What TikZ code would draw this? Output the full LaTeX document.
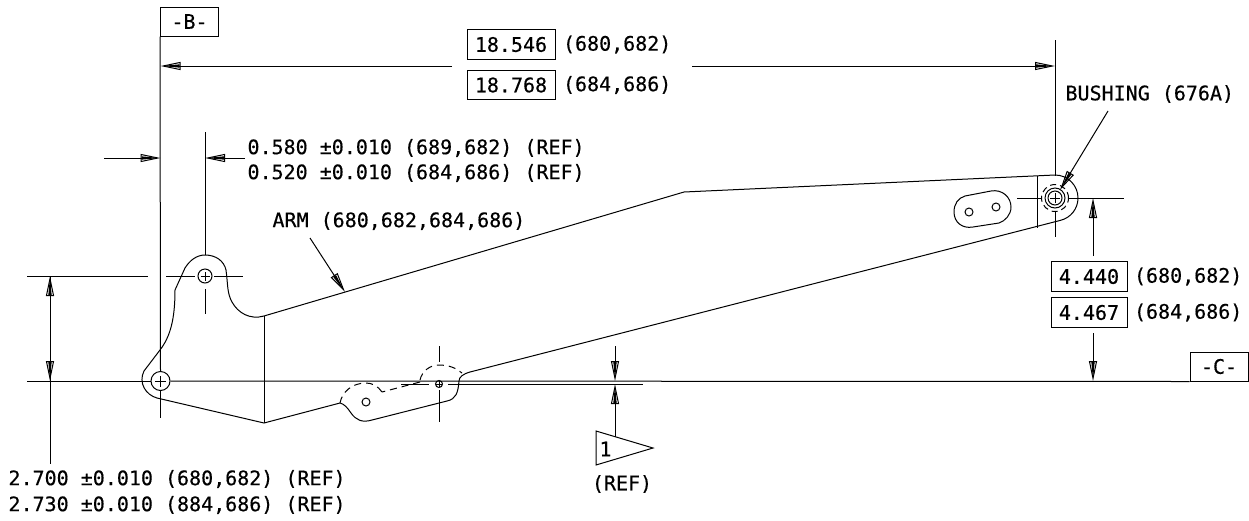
\documentclass[tikz,border=0pt]{standalone}
\usepackage{fontspec}
\setmainfont[FakeBold=0.4]{DejaVu Sans Mono}
\usetikzlibrary{arrows.meta,positioning}
\tikzstyle{dimtext}=[anchor=west,inner sep=0pt,font=\fontsize{20}{24}\selectfont]
\tikzstyle{dimbox}=[draw,inner sep=0pt,minimum width=88pt,minimum height=29.5pt,font=\fontsize{20}{24}\selectfont]
\tikzstyle{datumbox}=[draw,inner sep=0pt,minimum width=58pt,minimum height=29pt,font=\fontsize{20}{24}\selectfont]
\tikzstyle{dimline}=[-{Triangle[open,length=20pt,width=8pt,sep=-19pt]Triangle[length=19pt,width=3pt]}]
\tikzstyle{part}=[line width=1pt]
\tikzstyle{hidden}=[line width=1pt,dash pattern=on 7pt off 5pt]
\tikzstyle{hole}=[circle,draw,line width=1pt,inner sep=0pt]
\tikzset{crossed/.style={path picture={
    \draw[line width=.8pt] ([xshift=-#1]path picture bounding box.center) -- ([xshift=#1]path picture bounding box.center);
    \draw[line width=.8pt] ([yshift=-#1]path picture bounding box.center) -- ([yshift=#1]path picture bounding box.center);}}}
\begin{document}
\begin{tikzpicture}[x=1pt,y=-1pt,line width=1pt]
            \useasboundingbox (0,0) rectangle (1249,520);

            % ARM PART

            \draw[part] (264,316) -- (684,192) -- (1055,175)
                arc (-90:76:23) -- (470,372)
                .. controls (463,374) and (459,377) .. (459,381)
                .. controls (458,393) and (456,399) .. (447,401)
                -- (372,420)
                .. controls (362,423) and (356,420) .. (351,413)
                .. controls (347,407) and (344,404) .. (340,403)
                -- (264,423) -- (157,398)
                .. controls (146,395) and (138,383) .. (144,371)
                -- (160,350)
                .. controls (170,337) and (175,320) .. (175,290)
                -- (185,268)
                .. controls (190,260) and (197,255) .. (205,255)
                .. controls (216,255) and (224,261) .. (226,270)
                .. controls (228,285) and (227,293) .. (232,302)
                .. controls (238,313) and (250,320) .. (264,316);
            \draw[part] (264,316) -- (264,423);
            \draw[part] (1037,176) -- (1037,228);

            % slot
            \draw[part] (965,196) -- (991,191)
                .. controls (1002,189) and (1011,197) .. (1011,207)
                .. controls (1011,215) and (1005,221) .. (999,223)
                -- (973,227)
                .. controls (962,229) and (954,222) .. (954,212)
                .. controls (954,204) and (958,198) .. (965,196);
            \node[hole,minimum size=8pt] (slot1) at (969,212) {};
            \node[hole,minimum size=8pt] (slot2) at (996,207) {};

            % hidden part
            \draw[hidden] (420,380) .. controls (422,371) and (430,365) .. (439,365)
                .. controls (449,365) and (456,368) .. (462,373);
            \draw[hidden] (420,382) -- (382,392);
            \draw[hidden] (382,392) .. controls (378,386) and (372,383) .. (366,383)
                .. controls (352,383) and (342,392) .. (340,403);
            \node[hole,minimum size=8pt] (hole4) at (366,402) {};

            % holes

            \node[hole,minimum size=19pt,crossed=5.5pt] (hole1) at (160.5,381) {};
            \node[hole,minimum size=14pt,crossed=4.5pt] (hole2) at (205,276) {};
            \node[hole,minimum size=7pt,crossed=3.5pt] (hole3) at (439,384) {};
            \node[hole,minimum size=14pt,crossed=5pt] (bush1) at (1055,198) {};
            \node[hole,minimum size=20pt] (bush2) at (1055,198) {};
            \node[hole,minimum size=27pt,dash pattern=on 6pt off 4pt] (bush3) at (1055,198) {};

            % DATUM PART

            \node[datumbox] (datB) at (189.5,21.5) {-B-};
            \node[datumbox] (datC) at (1219,366.5) {-C-};

            \coordinate (bbot) at (160.5,418);
            \coordinate (cleft) at (27,381);
            \draw (datB.south west) -- (hole1.north);
            \draw (hole1.south) -- (bbot);
            \draw (cleft) -- (hole1.west);
            \draw (hole1.east) -- (datC.south west);

            % center lines

            \coordinate (rtop) at (1055,40);
            \coordinate (rmid) at (1055,176);
            \coordinate (rbot) at (1055,237);
            \coordinate (brl) at (1017,198);
            \coordinate (brr) at (1124,198);
            \coordinate (atop) at (205,132);
            \coordinate (amid) at (205,255);
            \coordinate (alow) at (205,289);
            \coordinate (abot) at (205,314);
            \coordinate (al) at (27,276);
            \coordinate (am) at (148,276);
            \coordinate (an) at (166,276);
            \coordinate (ao) at (195,276);
            \coordinate (ap) at (214,276);
            \coordinate (ar) at (243,276);
            \coordinate (ptop) at (439,346);
            \coordinate (pmid) at (439,362);
            \coordinate (plow) at (439,390);
            \coordinate (pbot) at (439,422);
            \coordinate (pl) at (401,384);
            \coordinate (pm) at (429,384);
            \coordinate (pn) at (448,384);
            \coordinate (pr) at (643,384);
            \draw (rtop) -- (rmid);
            \draw (bush3.south) -- (rbot);
            \draw (brl) -- (bush3.west);
            \draw (bush3.east) -- (brr);
            \draw (atop) -- (amid);
            \draw (alow) -- (abot);
            \draw (al) -- (am);
            \draw (an) -- (ao);
            \draw (ap) -- (ar);
            \draw (ptop) -- (pmid);
            \draw (plow) -- (pbot);
            \draw (pl) -- (pm);
            \draw (pn) -- (pr);

            % 18.546 DIMENSION

            \node[dimbox] (len1) at (511,44.5) {18.546};
            \node[dimbox,below=10pt of len1.south,anchor=north] (len2) {18.768};
            \node[dimtext,right=7pt of len1] (len1t) {(680,682)};
            \node[dimtext,right=7pt of len2] (len2t) {(684,686)};
            \coordinate (lenl) at (452,66);
            \coordinate (lenr) at (692,66);
            \coordinate (lenat) at (160.5,66);
            \coordinate (lenbt) at (1055,66);
            \draw[dimline] (lenl) -- (lenat);
            \draw[dimline] (lenr) -- (lenbt);

            % 0.580 DIMENSION

            \node[dimtext] (off1) at (247,148) {0.580 ±0.010 (689,682) (REF)};
            \node[dimtext] (off2) at (247,173) {0.520 ±0.010 (684,686) (REF)};
            \coordinate (offl) at (104,158);
            \coordinate (offat) at (160.5,158);
            \coordinate (offr) at (245,158);
            \coordinate (offbt) at (205,158);
            \draw[dimline] (offl) -- (offat);
            \draw[dimline] (offr) -- (offbt);

            % LABELS

            \node[dimtext] (arm) at (272,221) {ARM (680,682,684,686)};
            \coordinate (armf) at (310,238);
            \coordinate (armt) at (345,292);
            \draw[dimline] (armf) -- (armt);

            \node[dimtext] (bush) at (1065,94) {BUSHING (676A)};
            \coordinate (bushf) at (1108,111);
            \coordinate (busht) at (1060,190);
            \draw[dimline] (bushf) -- (busht);

            % 4.440 DIMENSION

            \node[dimbox,minimum width=76pt] (hgt1) at (1089,276.5) {4.440};
            \node[dimbox,minimum width=76pt] (hgt2) at (1089,312.5) {4.467};
            \node[dimtext,right=6pt of hgt1] (hgt1t) {(680,682)};
            \node[dimtext,right=6pt of hgt2] (hgt2t) {(684,686)};
            \coordinate (hgtu) at (1093,256);
            \coordinate (hgtut) at (1093,198);
            \coordinate (hgtd) at (1093,333);
            \coordinate (hgtdt) at (1093,381);
            \draw[dimline] (hgtu) -- (hgtut);
            \draw[dimline] (hgtd) -- (hgtdt);

            % 2.700 DIMENSION

            \node[dimtext] (dia1) at (8,479) {2.700 ±0.010 (680,682) (REF)};
            \node[dimtext] (dia2) at (8,505) {2.730 ±0.010 (884,686) (REF)};
            \coordinate (diaf) at (50,464);
            \coordinate (diat) at (50,381);
            \coordinate (diau) at (50,276);
            \draw[dimline] (diat) -- (diau);
            \draw[dimline] (diau) -- (diat);
            \draw (diat) -- (diaf);

            % FLAG PART

            \coordinate (flaga) at (596,431);
            \coordinate (flagb) at (653,448);
            \coordinate (flagc) at (596,465);
            \draw (flaga) -- (flagb) -- (flagc) -- cycle;
            \node[dimtext] (flagn) at (599,449) {1};
            \node[dimtext,anchor=center] (flagr) at (622,484) {(REF)};
            \coordinate (gapu) at (615,346);
            \coordinate (gaput) at (615,381);
            \coordinate (gapd) at (615,437);
            \coordinate (gapdt) at (615,384);
            \draw[dimline] (gapu) -- (gaput);
            \draw[dimline] (gapd) -- (gapdt);

        \end{tikzpicture}
\end{document}
